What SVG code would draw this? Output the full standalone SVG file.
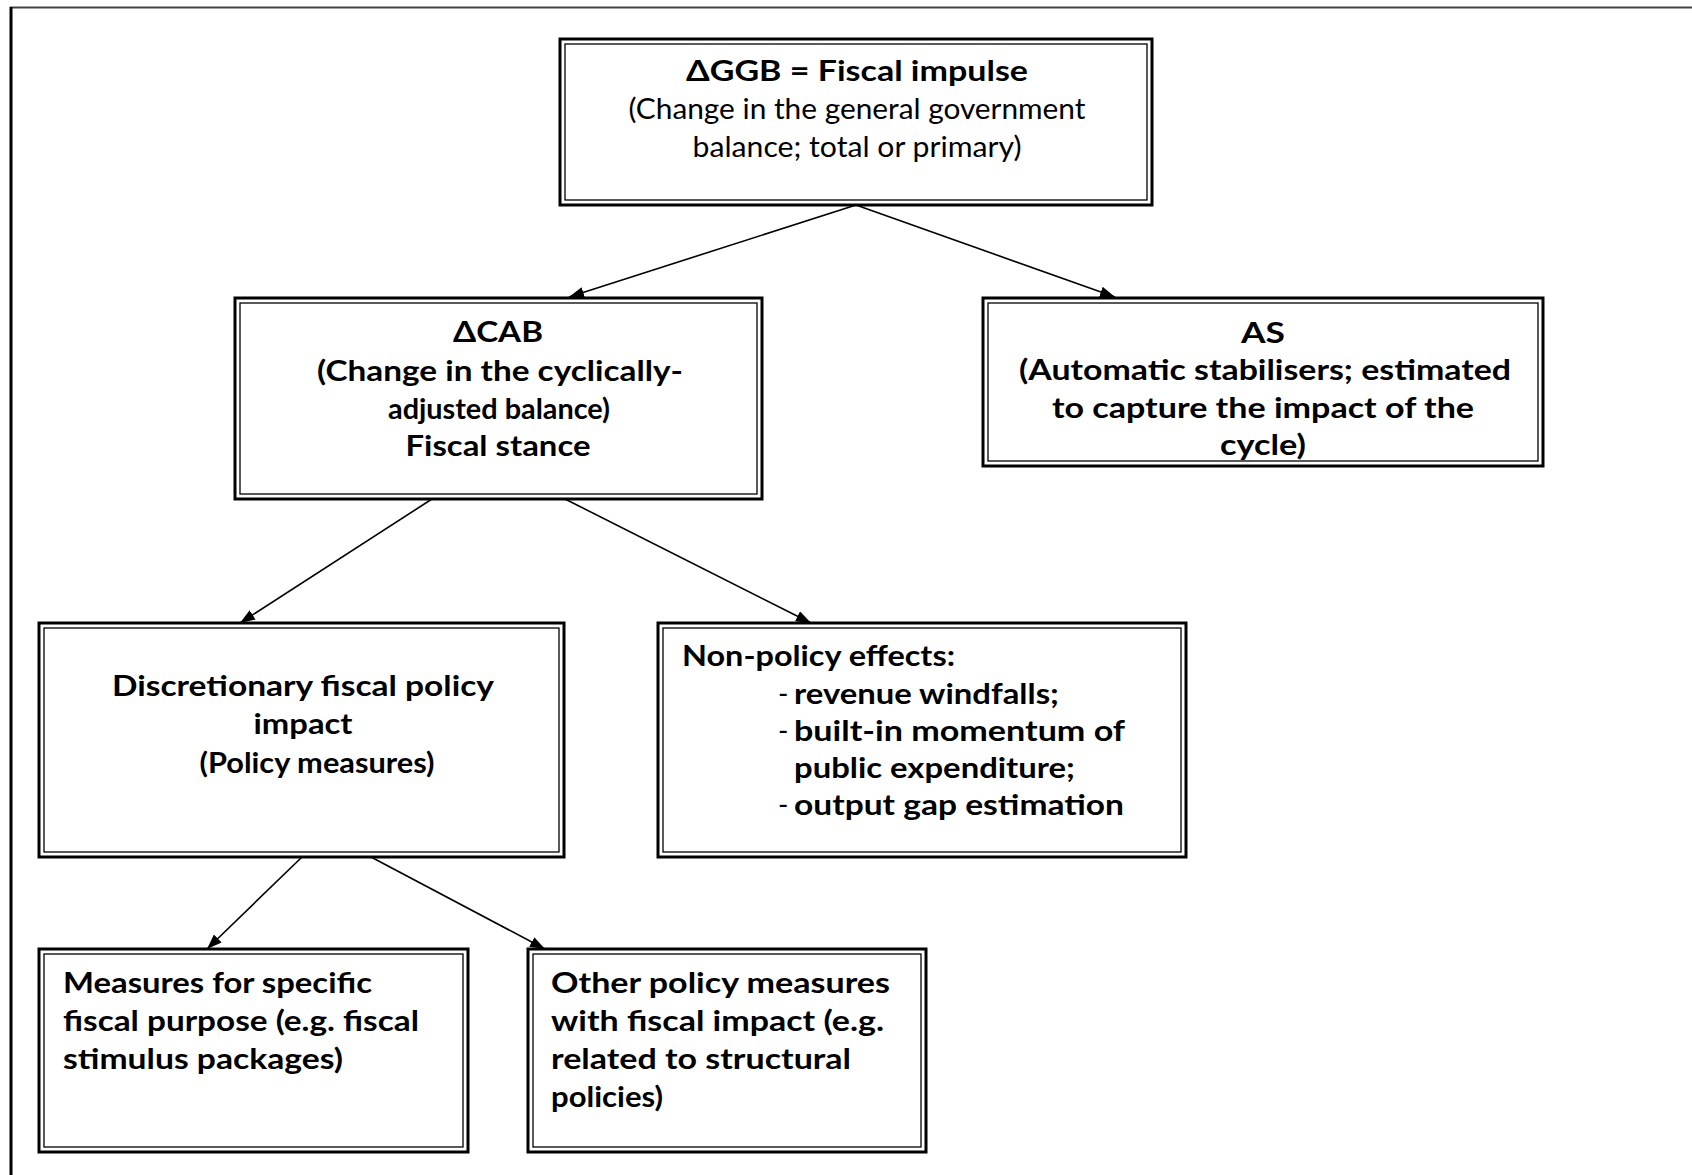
<svg xmlns="http://www.w3.org/2000/svg" width="1692" height="1175" viewBox="0 0 1692 1175">
<defs>
<style>
.ob{fill:#fff;stroke:#000;stroke-width:3}
.ib{fill:none;stroke:#000;stroke-width:1.3}
.t{font-family:Lato,"Open Sans","DejaVu Sans",sans-serif;font-size:28px;fill:#000}
.b{font-weight:bold}
.c{text-anchor:middle}
.con{stroke:#000;stroke-width:1.6;fill:none}
</style>
<marker id="ah" markerUnits="userSpaceOnUse" markerWidth="16" markerHeight="12" refX="15" refY="5.5" orient="auto">
<path d="M0,0 L15,5.5 L0,11 z" fill="#000"/>
</marker>
</defs>
<rect width="1692" height="1175" fill="#fff"/>
<g id="frame">
<line x1="10" y1="7.5" x2="1692" y2="7.5" stroke="#444" stroke-width="2"/>
<line x1="11" y1="7" x2="11" y2="1175" stroke="#000" stroke-width="3"/>
</g>
<g id="connectors">
<line class="con" x1="856" y1="205" x2="569" y2="297" marker-end="url(#ah)"/>
<line class="con" x1="856" y1="205" x2="1115" y2="297" marker-end="url(#ah)"/>
<line class="con" x1="432" y1="499" x2="240" y2="623" marker-end="url(#ah)"/>
<line class="con" x1="565" y1="499" x2="811" y2="623" marker-end="url(#ah)"/>
<line class="con" x1="302" y1="857" x2="207" y2="949" marker-end="url(#ah)"/>
<line class="con" x1="371" y1="857" x2="545" y2="949" marker-end="url(#ah)"/>
</g>
<g id="ggb">
<rect class="ob" x="560" y="39" width="592" height="166"/>
<rect class="ib" x="565" y="44" width="582" height="156"/>
<text class="t b c" x="857" y="81" textLength="342" lengthAdjust="spacingAndGlyphs">ΔGGB = Fiscal impulse</text>
<text class="t c" x="857" y="119" textLength="457" lengthAdjust="spacingAndGlyphs">(Change in the general government</text>
<text class="t c" x="857" y="157" textLength="329" lengthAdjust="spacingAndGlyphs">balance; total or primary)</text>
</g>
<g id="cab">
<rect class="ob" x="235" y="298" width="527" height="201"/>
<rect class="ib" x="240" y="303" width="517" height="191"/>
<text class="t b c" x="498" y="342" textLength="90" lengthAdjust="spacingAndGlyphs">ΔCAB</text>
<text class="t b c" x="500" y="381" textLength="366" lengthAdjust="spacingAndGlyphs">(Change in the cyclically-</text>
<text class="t b c" x="499" y="419" textLength="222" lengthAdjust="spacingAndGlyphs">adjusted balance)</text>
<text class="t b c" x="498" y="456" textLength="185" lengthAdjust="spacingAndGlyphs">Fiscal stance</text>
</g>
<g id="as">
<rect class="ob" x="983" y="298" width="560" height="168"/>
<rect class="ib" x="988" y="303" width="550" height="158"/>
<text class="t b c" x="1263" y="343" textLength="44" lengthAdjust="spacingAndGlyphs">AS</text>
<text class="t b c" x="1265" y="380" textLength="492" lengthAdjust="spacingAndGlyphs">(Automatic stabilisers; estimated</text>
<text class="t b c" x="1263" y="418" textLength="422" lengthAdjust="spacingAndGlyphs">to capture the impact of the</text>
<text class="t b c" x="1263" y="455" textLength="86" lengthAdjust="spacingAndGlyphs">cycle)</text>
</g>
<g id="discretionary">
<rect class="ob" x="39" y="623" width="525" height="234"/>
<rect class="ib" x="44" y="628" width="515" height="224"/>
<text class="t b c" x="303" y="696" textLength="382" lengthAdjust="spacingAndGlyphs">Discretionary fiscal policy</text>
<text class="t b c" x="303" y="734" textLength="99" lengthAdjust="spacingAndGlyphs">impact</text>
<text class="t b c" x="317" y="773" textLength="235" lengthAdjust="spacingAndGlyphs">(Policy measures)</text>
</g>
<g id="nonpolicy">
<rect class="ob" x="658" y="623" width="528" height="234"/>
<rect class="ib" x="663" y="628" width="518" height="224"/>
<text class="t b" x="682" y="666" textLength="273" lengthAdjust="spacingAndGlyphs">Non-policy effects:</text>
<text class="t" x="778" y="704">-</text>
<text class="t b" x="794" y="704" textLength="265" lengthAdjust="spacingAndGlyphs">revenue windfalls;</text>
<text class="t" x="778" y="741">-</text>
<text class="t b" x="794" y="741" textLength="331" lengthAdjust="spacingAndGlyphs">built-in momentum of</text>
<text class="t b" x="794" y="778" textLength="281" lengthAdjust="spacingAndGlyphs">public expenditure;</text>
<text class="t" x="778" y="815">-</text>
<text class="t b" x="794" y="815" textLength="330" lengthAdjust="spacingAndGlyphs">output gap estimation</text>
</g>
<g id="specific">
<rect class="ob" x="39" y="949" width="429" height="203"/>
<rect class="ib" x="44" y="954" width="419" height="193"/>
<text class="t b" x="63" y="993" textLength="309" lengthAdjust="spacingAndGlyphs">Measures for specific</text>
<text class="t b" x="63" y="1031" textLength="356" lengthAdjust="spacingAndGlyphs">fiscal purpose (e.g. fiscal</text>
<text class="t b" x="63" y="1069" textLength="280" lengthAdjust="spacingAndGlyphs">stimulus packages)</text>
</g>
<g id="other">
<rect class="ob" x="528" y="949" width="398" height="203"/>
<rect class="ib" x="533" y="954" width="388" height="193"/>
<text class="t b" x="551" y="993" textLength="339" lengthAdjust="spacingAndGlyphs">Other policy measures</text>
<text class="t b" x="551" y="1031" textLength="333" lengthAdjust="spacingAndGlyphs">with fiscal impact (e.g.</text>
<text class="t b" x="551" y="1069" textLength="300" lengthAdjust="spacingAndGlyphs">related to structural</text>
<text class="t b" x="551" y="1107" textLength="112" lengthAdjust="spacingAndGlyphs">policies)</text>
</g>
</svg>
